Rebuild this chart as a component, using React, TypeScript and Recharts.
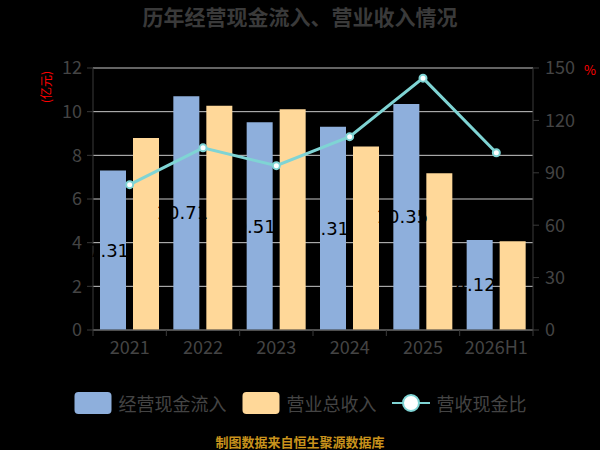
import { ComposedChart, Bar, Line, XAxis, YAxis, CartesianGrid, Legend, LabelList } from 'recharts';

const years = ['2021', '2022', '2023', '2024', '2025', '2026H1'];
const cashInflow = [7.31, 10.71, 9.51, 9.31, 10.35, 4.12];
const revenue = [8.79, 10.27, 10.11, 8.41, 7.18, 4.06];
const cashRatio = [83.2, 104.3, 94.1, 110.7, 144.2, 101.5];
const leftTicks = [0, 2, 4, 6, 8, 10, 12];
const rightTicks = [0, 30, 60, 90, 120, 150];

const data = years.map((year, i) => ({
  year,
  cash: cashInflow[i],
  revenue: revenue[i],
  ratio: cashRatio[i],
}));

const FONT = '"Noto Sans CJK SC", "Noto Sans", sans-serif';
const AXIS = '#3a3a3a';
const TEXT = '#444444';
const BLUE = '#8eafdc';
const YELLOW = '#ffd899';
const TEAL = '#7fd4d4';

const PLOT_W = 440;
const BAND = PLOT_W / years.length;

function YearTick(props: any) {
  const { x, y, payload, index } = props;
  const axisY = y - 8;
  return (
    <g>
      <line x1={x - BAND / 2} y1={axisY} x2={x - BAND / 2} y2={axisY + 6} stroke={AXIS} />
      {index === years.length - 1 && (
        <line x1={x + BAND / 2} y1={axisY} x2={x + BAND / 2} y2={axisY + 6} stroke={AXIS} />
      )}
      <text x={x} y={y} dy={16} textAnchor="middle" fill={TEXT} fontSize={18}>
        {payload.value}
      </text>
    </g>
  );
}

function LegendContent({ payload }: any) {
  return (
    <div style={{ display: 'flex', justifyContent: 'center', alignItems: 'center', gap: 15, fontFamily: FONT }}>
      {(payload || []).map((entry: any) => (
        <div key={entry.value} style={{ display: 'flex', alignItems: 'center' }}>
          <svg width={38} height={24}>
            {entry.dataKey === 'ratio' ? (
              <g>
                <line x1={0} y1={12} x2={38} y2={12} stroke={TEAL} strokeWidth={2} />
                <circle cx={19} cy={12} r={8} fill="#fff" stroke={TEAL} strokeWidth={2} />
              </g>
            ) : (
              <rect x={0.5} y={1} width={37} height={22} rx={4} fill={entry.color} />
            )}
          </svg>
          <span style={{ marginLeft: 7, fontSize: 18, color: TEXT }}>{entry.value}</span>
        </div>
      ))}
    </div>
  );
}

export default function App() {
  return (
    <div style={{ position: 'absolute', left: 0, top: 0, width: 600, height: 450, background: '#000', fontFamily: FONT }}>
      <div style={{ position: 'absolute', top: 1, width: 600, textAlign: 'center', fontSize: 21, fontWeight: 'bold', color: '#3a3a3a' }}>
        历年经营现金流入、营业收入情况
      </div>
      <div
        style={{
          position: 'absolute',
          left: 21,
          top: 79,
          width: 50,
          height: 16,
          lineHeight: '16px',
          textAlign: 'center',
          whiteSpace: 'nowrap',
          fontSize: 12,
          color: '#ff0000',
          transform: 'rotate(-90deg)',
        }}
      >
        (亿元)
      </div>
      <div style={{ position: 'absolute', left: 584, top: 60, fontSize: 13, color: '#ff0000' }}>%</div>
      <ComposedChart
        width={600}
        height={450}
        data={data}
        barGap={7}
        margin={{ top: 68, right: 0, bottom: 90, left: 0 }}
        style={{ fontFamily: FONT }}
      >
        <CartesianGrid yAxisId="left" vertical={false} stroke="#c8c8c8" />
        <XAxis
          dataKey="year"
          height={30}
          tickSize={6}
          tickMargin={2}
          tickLine={false}
          axisLine={{ stroke: AXIS }}
          tick={<YearTick />}
          interval={0}
        />
        <YAxis
          yAxisId="left"
          width={93}
          domain={[0, 12]}
          ticks={leftTicks}
          tickSize={6}
          tickMargin={5}
          axisLine={{ stroke: AXIS }}
          tickLine={{ stroke: AXIS }}
          tick={{ fontSize: 18, fill: TEXT }}
        />
        <YAxis
          yAxisId="right"
          orientation="right"
          width={67}
          domain={[0, 150]}
          ticks={rightTicks}
          tickSize={6}
          tickMargin={6}
          axisLine={{ stroke: AXIS }}
          tickLine={{ stroke: AXIS }}
          tick={{ fontSize: 18, fill: TEXT }}
        />
        <Bar yAxisId="left" dataKey="cash" name="经营现金流入" fill={BLUE} barSize={26} isAnimationActive={false}>
          <LabelList
            dataKey="cash"
            position="center"
            fill="#000"
            fontSize={18}
            fontFamily="DejaVu Sans"
            dx={-4}
          />
        </Bar>
        <Bar yAxisId="left" dataKey="revenue" name="营业总收入" fill={YELLOW} barSize={26} isAnimationActive={false} />
        <Line
          yAxisId="right"
          dataKey="ratio"
          name="营收现金比"
          stroke={TEAL}
          strokeWidth={3}
          dot={{ r: 3.5, fill: '#fff', stroke: TEAL, strokeWidth: 2 }}
          isAnimationActive={false}
        />
        <Legend
          verticalAlign="middle"
          align="center"
          layout="horizontal"
          content={<LegendContent />}
          wrapperStyle={{ top: 390, left: 0, width: 600 }}
        />
      </ComposedChart>
      <div style={{ position: 'absolute', top: 432, width: 600, textAlign: 'center', fontSize: 13, fontWeight: 'bold', color: '#c8921c' }}>
        制图数据来自恒生聚源数据库
      </div>
    </div>
  );
}
